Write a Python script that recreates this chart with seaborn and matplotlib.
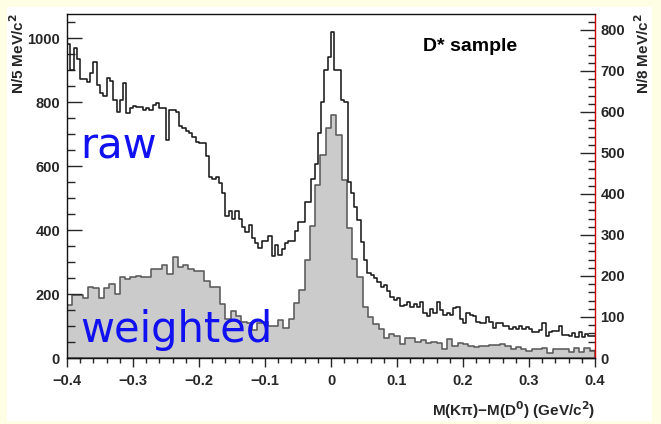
import numpy as np
import pandas as pd
import matplotlib
matplotlib.use("Agg")
import matplotlib.pyplot as plt
from matplotlib.ticker import MultipleLocator, FixedLocator, FixedFormatter
from matplotlib.patches import Rectangle
import seaborn as sns

# ---------------- data ----------------
x_range = (-0.4, 0.4)
# raw: counts per 5 MeV/c^2 (160 bins), left axis
raw_counts = [
    981, 900, 968, 933, 871, 871, 863, 890, 926, 853,
    829, 819, 874, 867, 806, 770, 806, 858, 767, 780,
    788, 783, 783, 775, 780, 775, 790, 798, 780, 780,
    681, 775, 775, 770, 725, 718, 710, 702, 690, 676,
    671, 671, 631, 567, 558, 567, 546, 517, 444, 460,
    434, 460, 434, 410, 395, 416, 374, 360, 343, 367,
    367, 381, 319, 353, 322, 340, 360, 367, 367, 398,
    426, 426, 489, 489, 558, 606, 702, 800, 900, 940,
    1018, 900, 900, 806, 800, 551, 515, 473, 430, 363,
    306, 265, 259, 250, 239, 223, 228, 210, 192, 180,
    186, 161, 166, 175, 160, 170, 160, 176, 141, 131,
    152, 141, 176, 150, 134, 141, 134, 155, 158, 121,
    110, 141, 134, 131, 114, 110, 110, 127, 114, 93,
    110, 108, 100, 100, 90, 98, 90, 100, 90, 98,
    90, 82, 82, 87, 110, 69, 82, 84, 84, 100,
    72, 72, 69, 79, 66, 82, 66, 74, 68, 70,
]
# weighted: counts per 8 MeV/c^2 (100 bins), right axis
weighted_counts = [
    129, 154, 154, 146, 174, 171, 146, 170, 181, 156,
    198, 192, 198, 200, 198, 198, 216, 218, 227, 205,
    246, 223, 227, 216, 211, 211, 187, 174, 174, 131,
    96, 115, 103, 89, 86, 68, 86, 88, 77, 77,
    93, 72, 94, 133, 167, 239, 322, 422, 495, 560,
    593, 544, 434, 316, 241, 198, 125, 99, 84, 70,
    48, 59, 54, 34, 48, 48, 40, 45, 37, 39,
    36, 23, 46, 30, 36, 34, 30, 28, 30, 30,
    32, 32, 34, 30, 23, 28, 23, 18, 21, 23,
    25, 12, 23, 23, 23, 15, 25, 15, 25, 18,
]
x_ticks = [-0.4, -0.3, -0.2, -0.1, 0.0, 0.1, 0.2, 0.3, 0.4]
x_tick_labels = ["\u22120.4", "\u22120.3", "\u22120.2", "\u22120.1", "0", "0.1", "0.2", "0.3", "0.4"]
left_ticks = [0, 200, 400, 600, 800, 1000]
right_ticks = [0, 100, 200, 300, 400, 500, 600, 700, 800]

raw_edges = list(np.linspace(x_range[0], x_range[1], len(raw_counts) + 1))
w_edges = list(np.linspace(x_range[0], x_range[1], len(weighted_counts) + 1))
raw_df = pd.DataFrame({"x": [(a + b) / 2 for a, b in zip(raw_edges[:-1], raw_edges[1:])],
                       "n": raw_counts})
w_df = pd.DataFrame({"x": [(a + b) / 2 for a, b in zip(w_edges[:-1], w_edges[1:])],
                     "n": weighted_counts})

# ---------------- style ----------------
sns.set_style("white")
plt.rcParams["font.family"] = ["Liberation Sans", "DejaVu Sans"]
plt.rcParams["font.weight"] = "bold"
plt.rcParams["axes.linewidth"] = 1.0

fig = plt.figure(figsize=(6.61, 4.24), dpi=100)
fig.patch.set_facecolor("#fefee4")
fig.patches.append(Rectangle((7 / 661, 3 / 424), 645 / 661, 414 / 424,
                             transform=fig.transFigure, facecolor="white",
                             edgecolor="none", zorder=-10))

ax = fig.add_axes([67 / 661, 1 - 358 / 424, 528 / 661, 344 / 424])
ax2 = ax.twinx()
ax.set_zorder(2)
ax2.set_zorder(1)
ax.patch.set_visible(False)

sns.histplot(data=raw_df, x="x", weights="n", bins=raw_edges, element="step",
             fill=False, color="#1a1a1a", linewidth=1.15, ax=ax)
sns.histplot(data=w_df, x="x", weights="n", bins=w_edges, element="step",
             fill=True, facecolor="#cbcbcb", edgecolor="#5a5a5a", alpha=1,
             linewidth=1.15, ax=ax2)

ax.set_xlim(*x_range)
ax.set_ylim(0, 1075)
ax2.set_ylim(0, 839)
ax.set_xlabel("")
ax.set_ylabel("")
ax2.set_ylabel("")

# x ticks
ax.xaxis.set_major_locator(FixedLocator(x_ticks))
ax.xaxis.set_major_formatter(FixedFormatter(x_tick_labels))
ax.xaxis.set_minor_locator(MultipleLocator(0.02))
ax.tick_params(axis="x", which="major", direction="out", length=6.5, width=1,
               labelsize=10.5, pad=5, bottom=True, top=False)
ax.tick_params(axis="x", which="minor", direction="out", length=3.5, width=1,
               bottom=True, top=False)
# left y ticks
ax.yaxis.set_major_locator(FixedLocator(left_ticks))
ax.yaxis.set_minor_locator(MultipleLocator(50))
ax.tick_params(axis="y", which="major", direction="in", length=11, width=1,
               labelsize=10.5, pad=5, left=True, right=False)
ax.tick_params(axis="y", which="minor", direction="in", length=5.8, width=1,
               left=True, right=False)
# right y ticks
ax2.yaxis.set_major_locator(FixedLocator(right_ticks))
ax2.yaxis.set_minor_locator(MultipleLocator(20))
ax2.tick_params(axis="y", which="major", direction="in", length=10.8, width=1,
                labelsize=10.5, pad=4, right=True, left=False)
ax2.tick_params(axis="y", which="minor", direction="in", length=5, width=1,
                right=True, left=False)
for lab in ax.get_xticklabels() + ax.get_yticklabels() + ax2.get_yticklabels():
    lab.set_fontweight("bold")

for s in ["left", "bottom", "top"]:
    ax.spines[s].set_color("#111111")
ax.spines["right"].set_visible(False)
for s in ["left", "bottom", "top"]:
    ax2.spines[s].set_visible(False)
ax2.spines["right"].set_visible(True)
ax2.spines["right"].set_color("#cc0000")

# labels
fig.text(18 / 661, 1 - 13 / 424, "N/5 MeV/c$^{\\mathbf{2}}$", rotation=90,
         ha="center", va="top", fontsize=11, fontweight="bold")
fig.text(643 / 661, 1 - 13 / 424, "N/8 MeV/c$^{\\mathbf{2}}$", rotation=90,
         ha="center", va="top", fontsize=11, fontweight="bold")
fig.text(595 / 661, 1 - 410 / 424, "M(K\u03c0)\u2212M(D$^{\\mathbf{0}}$) (GeV/c$^{\\mathbf{2}}$)",
         ha="right", va="center", fontsize=11, fontweight="bold")

ax.text(0.2106, 972, "D* sample", ha="center", va="center",
        fontsize=14, fontweight="bold", color="black")
ax.text(-0.380, 622, "raw", ha="left", va="baseline", fontsize=30,
        fontweight="normal", color="#1010f0", family=["DejaVu Sans"])
ax.text(-0.380, 50, "weighted", ha="left", va="baseline", fontsize=30,
        fontweight="normal", color="#1010f0", family=["DejaVu Sans"])

fig.savefig("out.png", dpi=100, facecolor=fig.get_facecolor())
